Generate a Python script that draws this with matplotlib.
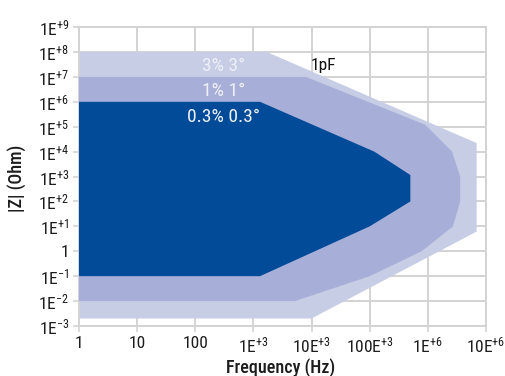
import matplotlib
matplotlib.use("Agg")
import matplotlib.pyplot as plt
from matplotlib import font_manager

# Accuracy regions in the frequency / impedance plane
light_freq = [1, 1.7e3, 6.9e6, 6.9e6, 1e4, 1]
light_z = [1e8, 1e8, 2.2e4, 6.2, 2e-3, 2e-3]

mid_freq = [1, 8e3, 9e5, 2.6e6, 3.6e6, 3.6e6, 2.7e6, 7.8e5, 1e5, 5.2e3, 1]
mid_z = [1e7, 1e7, 1.2e5, 1e4, 1e3, 1e2, 1e1, 1, 1e-1, 1e-2, 1e-2]

dark_freq = [1, 1.3e3, 1.2e5, 5e5, 5e5, 1e5, 1.3e3, 1]
dark_z = [1e6, 1e6, 1e4, 1.15e3, 1e2, 1e1, 1e-1, 1e-1]

region_labels = ["3% 3°", "1% 1°", "0.3% 0.3°"]
region_label_z = [1.75e7, 1.75e6, 1.55e5]

x_ticks = [1, 10, 100, 1e3, 1e4, 1e5, 1e6, 1e7]
x_tick_labels = ["1", "10", "100", r"1E$^{+3}$", r"10E$^{+3}$", r"100E$^{+3}$",
                 r"1E$^{+6}$", r"10E$^{+6}$"]
y_exponents = list(range(-3, 10))

names = {f.name for f in font_manager.fontManager.ttflist}
family = "Roboto"
for cand in ["Roboto Condensed", "Liberation Sans Narrow", "Open Sans Condensed",
             "Roboto", "Liberation Sans"]:
    if cand in names:
        family = cand
        break
plt.rcParams["font.family"] = [family, "DejaVu Sans"]
plt.rcParams["mathtext.fontset"] = "custom"
plt.rcParams["mathtext.rm"] = family
plt.rcParams["mathtext.it"] = family
plt.rcParams["mathtext.bf"] = family

W, H = 506, 376
grid_color = "#d3d3d3"
text_color = "#1c1c1c"
fig = plt.figure(figsize=(W / 100, H / 100), dpi=100)
ax = fig.add_axes([0.156, 0.133, 0.8045, 0.795])
ax.set_xscale("log")
ax.set_yscale("log")
ax.set_xlim(1, 1e7)
ax.set_ylim(1e-3, 1e9)

ax.fill(light_freq, light_z, color="#c6cde5", lw=0, zorder=2)
ax.fill(mid_freq, mid_z, color="#a7afd8", lw=0, zorder=3)
ax.fill(dark_freq, dark_z, color="#024b99", lw=0, zorder=4)

for lab, zv in zip(region_labels, region_label_z):
    ax.text(3.1e2, zv, lab, color="#eef0f8", fontsize=14, ha="center",
            va="baseline", zorder=5)
ax.text(1.6e4, 1.9e7, "1pF", color="#111111", fontsize=12.5, ha="center",
        va="baseline", zorder=5)

ax.set_xticks(x_ticks)
ax.set_xticklabels(x_tick_labels)
ax.set_yticks([10.0 ** e for e in y_exponents])
ylabs = []
for e in y_exponents:
    if e == 0:
        ylabs.append("1")
    elif e > 0:
        ylabs.append(r"1E$^{+%d}$" % e)
    else:
        ylabs.append(r"1E$^{-%d}$" % -e)
ax.set_yticklabels(ylabs)
ax.minorticks_off()
ax.tick_params(axis="both", colors=grid_color, labelcolor=text_color,
               labelsize=12.5, length=4, width=1.2, pad=3)

ax.grid(True, color=grid_color, lw=1.4)
ax.set_axisbelow(True)
for s in ax.spines.values():
    s.set_color(grid_color)
    s.set_linewidth(1.4)

# Axis titles placed in figure pixel coordinates
fig.text(281 / W, 3 / H, "Frequency (Hz)", fontsize=13, color=text_color,
         fontweight="medium", ha="center", va="baseline")
fig.text(17 / W, 1 - 178 / H, "|Z| (Ohm)", fontsize=13, color=text_color,
         fontweight="medium", ha="center", va="center", rotation=90)

fig.savefig("out.png", dpi=100)
